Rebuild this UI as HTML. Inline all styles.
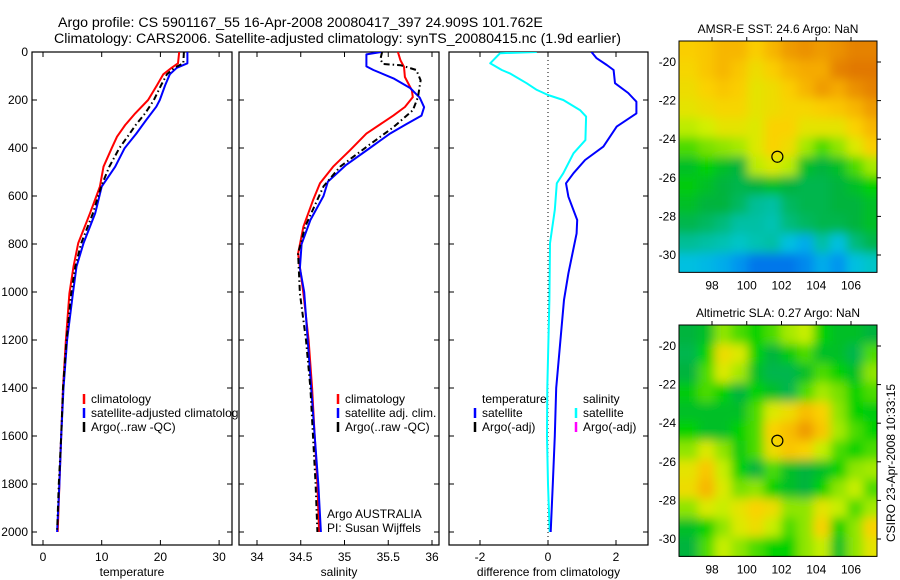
<!DOCTYPE html>
<html><head><meta charset="utf-8">
<style>
html,body{margin:0;padding:0;background:#fff;}
svg{display:block;font-family:"Liberation Sans",sans-serif;}
text{font-size:12px;fill:#000;}
</style></head>
<body>
<svg id="chart" width="900" height="580" viewBox="0 0 900 580" xmlns="http://www.w3.org/2000/svg">
<defs>
<clipPath id="clipP1"><rect x="32" y="52" width="200" height="493"/></clipPath>
<clipPath id="clipP2"><rect x="239" y="52" width="200" height="493"/></clipPath>
<clipPath id="clipP3"><rect x="449" y="52" width="199" height="493"/></clipPath>
<clipPath id="clipM1"><rect x="679" y="41" width="198" height="231"/></clipPath>
<clipPath id="clipM2"><rect x="679" y="325" width="198" height="232"/></clipPath>
<filter id="blur" filterUnits="userSpaceOnUse" x="640" y="0" width="260" height="580"><feGaussianBlur stdDeviation="5"/></filter>
</defs>
<text x="58" y="27" style="font-size:14.2px">Argo profile: CS 5901167_55 16-Apr-2008 20080417_397 24.909S 101.762E</text>
<text x="54" y="43" style="font-size:14.2px">Climatology: CARS2006. Satellite-adjusted climatology: synTS_20080415.nc (1.9d earlier)</text>
<g id="root"></g>
</svg>
<script>
// ---------- data ----------
const tDepth = [0,47,66,93,139,200,256,304,353,401,478,561,672,797,894,1006,1200,1400,1600,1800,2000];
const tClim  = [23.2,23.0,21.9,20.5,19.4,17.9,15.7,14.0,12.6,11.7,10.3,9.7,8.0,6.0,5.2,4.5,3.9,3.4,3.1,2.8,2.5];
const tSatDepth = [0,47,66,93,139,200,228,283,340,401,478,561,672,797,894,1006,1200,1400,1600,1800,2000];
const tSat   = [24.6,24.6,22.8,21.6,20.8,19.9,19.3,17.6,15.9,13.9,12.3,10.0,8.9,6.9,5.7,5.1,4.1,3.5,3.1,2.8,2.4];
const tArgo  = [24.0,23.9,22.4,21.1,20.1,18.9,17.4,15.8,14.4,13.0,11.3,9.9,8.5,6.5,5.5,4.8,4.0,3.4,3.1,2.7,2.4];

const sDepth = [0,35,62,104,160,188,229,264,340,410,478,547,618,728,840,1006,1200,1400,1600,1800,2000];
const sClim  = [35.61,35.64,35.68,35.69,35.77,35.78,35.69,35.56,35.25,35.06,34.87,34.72,34.64,34.53,34.47,34.53,34.59,34.63,34.66,34.69,34.71];
const sSatDepth = [0,10,60,75,110,150,190,230,265,300,340,400,470,540,600,700,800,900,1000,1200,1400,1600,1800,2000];
const sSat   = [35.42,35.25,35.25,35.33,35.56,35.75,35.86,35.91,35.88,35.71,35.52,35.29,35.02,34.81,34.76,34.61,34.51,34.49,34.54,34.58,34.62,34.66,34.70,34.73];
const sArgoDepth = [0,30,50,55,75,118,188,243,313,396,478,560,728,840,1006,1200,1400,1600,1800,2000];
const sArgo  = [35.43,35.41,35.44,35.64,35.82,35.87,35.84,35.78,35.56,35.25,34.95,34.76,34.55,34.47,34.49,34.56,34.61,34.64,34.67,34.69];

const dDepthS = [0,5,47,75,89,130,158,179,200,242,269,367,422,505,547,658,797,1033,1400,1600,1800,2000];
const dSal    = [-0.33,-1.41,-1.7,-1.36,-1.12,-0.63,-0.33,0.0,0.45,0.94,1.12,1.10,0.75,0.45,0.26,0.20,0.06,0.04,-0.02,-0.03,0.0,0.05];
const dDepthT = [0,26,54,75,130,171,207,256,311,394,450,505,547,603,700,756,922,1033,1400,1600,1800,2000];
const dTemp   = [1.28,1.43,1.73,1.93,1.97,2.36,2.6,2.6,2.02,1.63,1.09,0.75,0.53,0.6,0.86,0.84,0.6,0.47,0.24,0.2,0.14,0.08];

const depthTicks = [0,200,400,600,800,1000,1200,1400,1600,1800,2000];
const tTicks = [0,10,20,30];
const sTicks = [34,34.5,35,35.5,36];
const dTicks = [-2,0,2];
const latTicks = [-20,-22,-24,-26,-28,-30];
const lonTicks = [98,100,102,104,106];

const sstGrid = [
[0.76,0.78,0.82,0.82,0.76,0.82,0.88,0.90,0.88,0.90,0.93,0.93],
[0.74,0.78,0.82,0.78,0.72,0.76,0.82,0.85,0.85,0.93,0.95,0.95],
[0.72,0.75,0.78,0.76,0.70,0.72,0.76,0.82,0.88,0.85,0.90,0.93],
[0.70,0.72,0.74,0.74,0.70,0.72,0.74,0.74,0.76,0.78,0.82,0.88],
[0.64,0.66,0.70,0.70,0.68,0.75,0.75,0.70,0.70,0.70,0.75,0.82],
[0.55,0.58,0.60,0.62,0.68,0.75,0.72,0.62,0.55,0.60,0.68,0.76],
[0.45,0.50,0.45,0.42,0.64,0.68,0.64,0.45,0.42,0.45,0.55,0.62],
[0.48,0.45,0.42,0.40,0.42,0.45,0.42,0.40,0.40,0.42,0.45,0.50],
[0.45,0.42,0.42,0.38,0.32,0.30,0.38,0.40,0.40,0.42,0.42,0.45],
[0.40,0.38,0.35,0.30,0.30,0.28,0.35,0.38,0.40,0.40,0.42,0.45],
[0.32,0.30,0.28,0.25,0.28,0.30,0.20,0.15,0.30,0.20,0.35,0.40],
[0.20,0.18,0.15,0.10,0.05,0.05,0.05,0.08,0.15,0.10,0.20,0.25]];
const slaGrid = [
[0.42,0.45,0.60,0.55,0.50,0.55,0.62,0.65,0.50,0.45,0.45,0.42],
[0.40,0.50,0.72,0.68,0.50,0.42,0.48,0.55,0.45,0.45,0.40,0.55],
[0.42,0.55,0.68,0.62,0.45,0.40,0.40,0.45,0.55,0.50,0.45,0.60],
[0.48,0.55,0.50,0.42,0.50,0.45,0.40,0.55,0.62,0.58,0.50,0.55],
[0.45,0.45,0.45,0.45,0.55,0.68,0.72,0.80,0.75,0.60,0.50,0.48],
[0.50,0.45,0.45,0.50,0.55,0.75,0.80,0.88,0.78,0.62,0.55,0.50],
[0.60,0.68,0.60,0.48,0.55,0.72,0.78,0.75,0.65,0.55,0.50,0.55],
[0.70,0.78,0.65,0.50,0.42,0.55,0.45,0.42,0.45,0.50,0.60,0.62],
[0.72,0.82,0.68,0.58,0.60,0.50,0.45,0.42,0.50,0.60,0.65,0.55],
[0.60,0.68,0.65,0.70,0.75,0.72,0.60,0.60,0.70,0.65,0.55,0.62],
[0.45,0.50,0.60,0.68,0.72,0.65,0.55,0.60,0.75,0.50,0.60,0.75],
[0.42,0.55,0.65,0.60,0.55,0.50,0.50,0.60,0.65,0.45,0.60,0.70]];
const floatLon = 101.762;
const floatLat = -24.909;

// ---------- helpers ----------
const NS = "http://www.w3.org/2000/svg";
const root = document.getElementById('root');
function mk(tag, attrs, parent){ const e=document.createElementNS(NS,tag); for(const k in attrs) e.setAttribute(k,attrs[k]); (parent||root).appendChild(e); return e; }
const yD = d => 52 + 0.24*d;
const xT = t => 43 + 5.87*t;
const xS = s => 257 + 87.5*(s-34);
const xDf = v => 548 + 34*v;
const lonX = lon => 712 + (lon-98)*17.375;
const latY1 = lat => 62 + (-20-lat)*19.3;
const latY2 = lat => 346 + (-20-lat)*19.3;

function panel(name,x,w,xs,ticks,label,showDepth){
  const g=mk('g',{});
  
  
  mk('rect',{x:x,y:52,width:w,height:493,fill:'#fff',stroke:'#000','stroke-width':1.2},g);
  depthTicks.forEach(d=>{
    const y=yD(d);
    mk('line',{x1:x,y1:y,x2:x+5,y2:y,stroke:'#000'},g);
    mk('line',{x1:x+w-5,y1:y,x2:x+w,y2:y,stroke:'#000'},g);
    if(showDepth){ const t=mk('text',{x:28,y:y+4,'text-anchor':'end'},g); t.textContent=d;
        }
  });
  ticks.forEach(v=>{
    const xx=xs(v);
    mk('line',{x1:xx,y1:52,x2:xx,y2:57,stroke:'#000'},g);
    mk('line',{x1:xx,y1:540,x2:xx,y2:545,stroke:'#000'},g);
    const t=mk('text',{x:xx,y:561,'text-anchor':'middle'},g); t.textContent=v;
     
  });
  const t=mk('text',{x:x+w/2,y:576,'text-anchor':'middle'},g); t.textContent=label;
   
  return g;
}
function line(vals,depths,xs,color,width,dash,clip,name){
  let d='';
  vals.forEach((v,i)=>{ d+=(i?'L':'M')+xs(v).toFixed(1)+','+yD(depths[i]).toFixed(1); });
  const p=mk('path',{d:d,fill:'none',stroke:color,'stroke-width':width,'clip-path':'url(#'+clip+')','stroke-linejoin':'round'});
  if(dash) p.setAttribute('stroke-dasharray',dash);
  
  
}
function legend(x,y,color,label,name){
  if(color){ const b=mk('line',{x1:x,y1:y-9,x2:x,y2:y+1,stroke:color,'stroke-width':2.5});
      }
  const t=mk('text',{x:x+7,y:y}); t.textContent=label;
   
}

// Panel 1 temperature
panel('temperature-panel',32,200,xT,tTicks,'temperature',true);
line(tClim,tDepth,xT,'#ff0000',2,null,'clipP1','temp-climatology-line');
line(tSat,tSatDepth,xT,'#0000ff',2,null,'clipP1','temp-satellite-line');
line(tArgo,tDepth,xT,'#000',2,'6,3,1.5,3','clipP1','temp-argo-line');
legend(84,403,'#ff0000','climatology','legend-climatology');
legend(84,417,'#0000ff','satellite-adjusted climatology','legend-satellite-adjusted');
legend(84,431,'#000','Argo(..raw -QC)','legend-argo-raw');

// Panel 2 salinity
panel('salinity-panel',239,200,xS,sTicks,'salinity',false);
line(sClim,sDepth,xS,'#ff0000',2,null,'clipP2','sal-climatology-line');
line(sSat,sSatDepth,xS,'#0000ff',2,null,'clipP2','sal-satellite-line');
line(sArgo,sArgoDepth,xS,'#000',2,'6,3,1.5,3','clipP2','sal-argo-line');
legend(338,403,'#ff0000','climatology','legend-sal-climatology');
legend(338,417,'#0000ff','satellite adj. clim.','legend-sal-satellite');
legend(338,431,'#000','Argo(..raw -QC)','legend-sal-argo');
legend(320,518,null,'Argo AUSTRALIA','argo-australia-label');
legend(320,532,null,'PI: Susan Wijffels','pi-label');

// Panel 3 difference
panel('difference-panel',449,199,xDf,dTicks,'difference from climatology',false);
{ const z=mk('line',{x1:xDf(0),y1:52,x2:xDf(0),y2:545,stroke:'#000','stroke-dasharray':'1,3'});
    }
line(dSal,dDepthS,xDf,'#00ffff',2,null,'clipP3','diff-salinity-line');
line(dTemp,dDepthT,xDf,'#0000ff',2,null,'clipP3','diff-temperature-line');
legend(475,403,null,'temperature','legend-temperature-header');
legend(475,417,'#0000ff','satellite','legend-temp-satellite');
legend(475,431,'#000','Argo(-adj)','legend-temp-argo');
legend(576,403,null,'salinity','legend-salinity-header');
legend(576,417,'#00ffff','satellite','legend-sal-sat');
legend(576,431,'#ff00ff','Argo(-adj)','legend-sal-argo-adj');

// ---------- maps ----------
const stops=[[0,[0,90,230]],[0.12,[0,160,240]],[0.22,[0,200,220]],[0.32,[0,190,150]],[0.42,[0,180,60]],[0.5,[0,210,0]],[0.58,[120,225,0]],[0.66,[210,240,0]],[0.75,[250,210,0]],[0.85,[245,170,0]],[0.95,[225,120,0]],[1,[215,100,0]]];
function cmap(v){
  for(let i=1;i<stops.length;i++){ if(v<=stops[i][0]){ const a=stops[i-1],b=stops[i],f=(v-a[0])/(b[0]-a[0]);
    return 'rgb('+a[1].map((c,k)=>Math.round(c+(b[1][k]-c)*f)).join(',')+')'; } }
  return 'rgb(215,100,0)';
}
function map(name,grid,latY,top,clip,title,titleY){
  const g=mk('g',{});
  
  
  const cg=mk('g',{'clip-path':'url(#'+clip+')'},g);
  const bg=mk('g',{filter:'url(#blur)'},cg);
  const lon0=96.25, lat0=-18.9, dLon=(107.65-96.25)/12;
  grid.forEach((row,r)=>row.forEach((v,c)=>{
    const x0=lonX(lon0+c*dLon), x1=lonX(lon0+(c+1)*dLon);
    const y0=latY(lat0-r), y1=latY(lat0-r-1);
    const px=(c===0?-12:0), pw=(c===11?12:0), py=(r===0?-12:0), ph=(r===11?12:0);
    const cell=mk('rect',{x:x0+px,y:y0+py,width:x1-x0-px+pw+0.5,height:y1-y0-py+ph+0.5,fill:cmap(v)},bg);
    
    
  }));
  mk('rect',{x:679,y:top,width:198,height:(latY(-30.9)-top),fill:'none',stroke:'#000'},g);
  const fl=mk('circle',{cx:lonX(floatLon),cy:latY(floatLat),r:5.5,fill:'none',stroke:'#000','stroke-width':1.2},g);
   
  latTicks.forEach(l=>{ const y=latY(l);
    mk('line',{x1:877,y1:y,x2:881,y2:y,stroke:'#000'},g);
    const t=mk('text',{x:676,y:y+4,'text-anchor':'end'},g); t.textContent=l;
      });
  const bottom=latY(-30.9);
  lonTicks.forEach(l=>{ const x=lonX(l);
    mk('line',{x1:x,y1:top-4,x2:x,y2:top,stroke:'#000'},g);
    const t=mk('text',{x:x,y:bottom+17,'text-anchor':'middle'},g); t.textContent=l;
      });
  const tt=mk('text',{x:778,y:titleY,'text-anchor':'middle'},g); tt.textContent=title;
   
}
map('sst-map',sstGrid,latY1,41,'clipM1','AMSR-E SST: 24.6 Argo: NaN',33);
map('sla-map',slaGrid,latY2,325,'clipM2','Altimetric SLA: 0.27 Argo: NaN',317);
{ const t=mk('text',{x:0,y:0,'text-anchor':'middle',transform:'translate(895,463) rotate(-90)'});
  t.textContent='CSIRO 23-Apr-2008 10:33:15';
    }
</script>
</body></html>
